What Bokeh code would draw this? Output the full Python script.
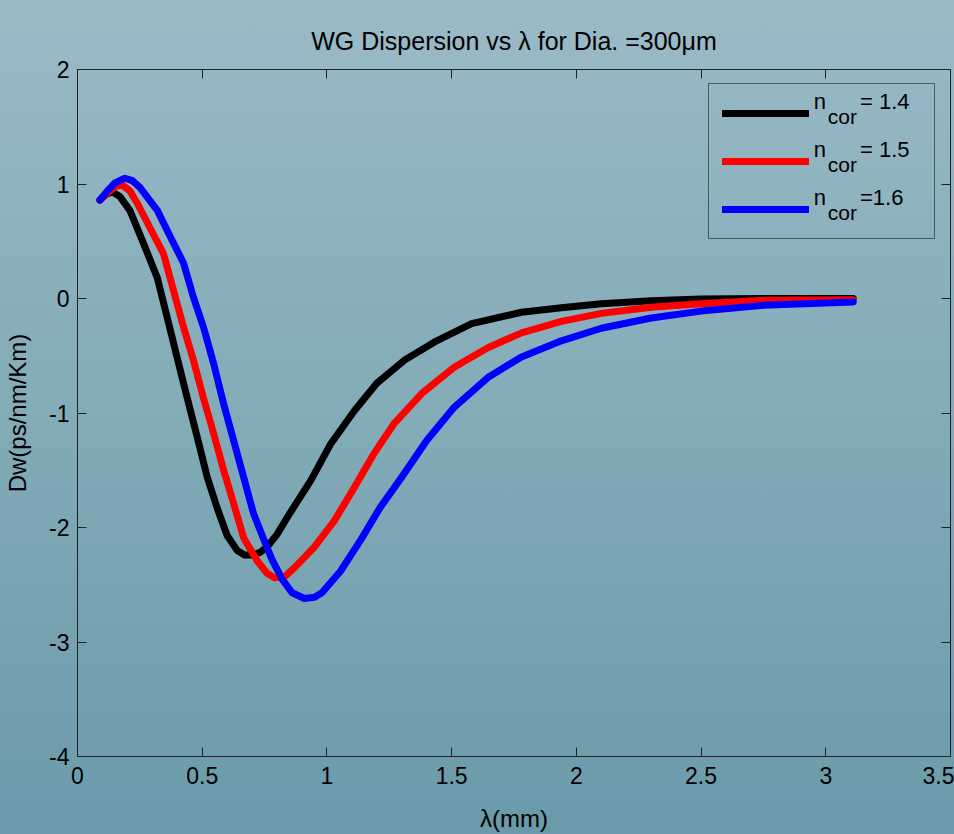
from bokeh.plotting import figure
from bokeh.models import (Range1d, LinearAxis, FixedTicker, CustomJSTickFormatter,
                          Legend, LegendItem, Label)
from bokeh.embed import file_html
from bokeh.resources import INLINE

# ---------------- data ----------------
x_ticks = [0, 0.5, 1, 1.5, 2, 2.5, 3, 3.5]
y_ticks = [-4, -3, -2, -1, 0, 1, 2]

lam_14 = [0.09, 0.115, 0.14, 0.17, 0.21, 0.265, 0.32, 0.36, 0.40, 0.44, 0.48, 0.52, 0.56, 0.60,
          0.64, 0.67, 0.70, 0.73, 0.76, 0.80, 0.85, 0.935, 1.015, 1.11, 1.20, 1.31,
          1.44, 1.58, 1.78, 1.94, 2.10, 2.30, 2.50, 2.75, 3.11]
dw_14 = [0.86, 0.91, 0.93, 0.89, 0.77, 0.48, 0.18, -0.17, -0.52, -0.87, -1.21, -1.56, -1.83, -2.07,
         -2.20, -2.24, -2.24, -2.22, -2.17, -2.06, -1.88, -1.59, -1.27, -0.98, -0.74, -0.54,
         -0.37, -0.22, -0.12, -0.08, -0.045, -0.02, -0.005, 0.0, 0.0]

lam_15 = [0.09, 0.13, 0.155, 0.18, 0.21, 0.24, 0.29, 0.345, 0.385, 0.425, 0.465, 0.505, 0.546, 0.586,
          0.626, 0.666, 0.72, 0.76, 0.79, 0.83, 0.87, 0.95, 1.03, 1.11, 1.19, 1.27,
          1.38, 1.51, 1.645, 1.78, 1.94, 2.10, 2.30, 2.50, 2.75, 3.11]
dw_15 = [0.86, 0.94, 0.98, 0.99, 0.94, 0.83, 0.62, 0.39, 0.07, -0.25, -0.54, -0.87, -1.18, -1.50,
         -1.79, -2.09, -2.29, -2.40, -2.44, -2.43, -2.35, -2.17, -1.94, -1.65, -1.35, -1.09,
         -0.83, -0.60, -0.43, -0.30, -0.20, -0.13, -0.076, -0.045, -0.015, -0.01]

lam_16 = [0.09, 0.12, 0.15, 0.19, 0.22, 0.25, 0.32, 0.373, 0.425, 0.465, 0.505, 0.546, 0.586, 0.626,
          0.666, 0.706, 0.746, 0.78, 0.82, 0.86, 0.91, 0.95, 0.98, 1.055, 1.135, 1.215,
          1.30, 1.40, 1.51, 1.645, 1.78, 1.94, 2.10, 2.30, 2.50, 2.75, 3.11]
dw_16 = [0.86, 0.94, 1.01, 1.05, 1.03, 0.97, 0.77, 0.535, 0.31, 0.01, -0.25, -0.57, -0.92, -1.24,
         -1.56, -1.88, -2.10, -2.28, -2.45, -2.57, -2.62, -2.61, -2.57, -2.38, -2.11, -1.82,
         -1.56, -1.24, -0.95, -0.69, -0.51, -0.37, -0.26, -0.17, -0.11, -0.06, -0.03]

series_x = [lam_14, lam_15, lam_16]
series_y = [dw_14, dw_15, dw_16]
series_colors = ["#000000", "#ff0000", "#0000ff"]
series_values = ["= 1.4", "= 1.5", "=1.6"]

# legend text anchor positions (data units)
leg_n_x = 2.952
leg_sub_x = 3.008
leg_val_x = 3.137
leg_base_y = [1.613, 1.194, 0.775]
leg_sub_y = [1.491, 1.072, 0.653]

FONT = "Liberation Sans"
AX = "#222222"

p = figure(frame_width=873, frame_height=687,
           x_range=Range1d(0, 3.5), y_range=Range1d(-4, 2),
           output_backend="svg", toolbar_location=None,
           min_border_left=77, min_border_right=4,
           min_border_top=69, min_border_bottom=78,
           title="WG Dispersion vs λ for Dia. =300μm")

p.background_fill_color = None
p.border_fill_color = None
p.outline_line_color = AX
p.styles = {"background": "linear-gradient(to bottom, #9abac6 0%, #83abb8 50%, #6a9aaa 100%)"}
p.grid.visible = False

p.title.text_font = FONT
p.title.text_font_size = "25px"
p.title.text_font_style = "normal"
p.title.text_color = "#000000"
p.title.align = "center"
p.title.standoff = 30

for ax in (p.xaxis[0], p.yaxis[0]):
    ax.major_tick_in = 9
    ax.major_tick_out = 0
    ax.minor_tick_in = 0
    ax.minor_tick_out = 0
    ax.minor_tick_line_color = None
    ax.axis_line_color = AX
    ax.major_tick_line_color = AX
    ax.major_label_text_font = FONT
    ax.major_label_text_font_size = "23px"
    ax.major_label_text_color = "#000000"
    ax.axis_label_text_font = FONT
    ax.axis_label_text_font_size = "24px"
    ax.axis_label_text_font_style = "normal"
    ax.axis_label_text_color = "#000000"

p.xaxis.ticker = FixedTicker(ticks=x_ticks)
p.xaxis.formatter = CustomJSTickFormatter(code="return String(tick);")
p.xaxis.major_label_standoff = 10
p.xaxis.axis_label = "λ(mm)"
p.xaxis.axis_label_standoff = 18

p.yaxis.ticker = FixedTicker(ticks=y_ticks)
p.yaxis.formatter = CustomJSTickFormatter(code="return String(tick);")
p.yaxis.major_label_standoff = 8
p.yaxis.axis_label = "Dw(ps/nm/Km)"
p.yaxis.axis_label_standoff = 15

for loc, ticks in (("above", x_ticks), ("right", y_ticks)):
    a = LinearAxis(ticker=FixedTicker(ticks=ticks),
                   formatter=CustomJSTickFormatter(code="return '';"),
                   major_label_text_font_size="0px", major_label_standoff=0,
                   axis_label_standoff=0,
                   major_tick_in=9, major_tick_out=0,
                   minor_tick_in=0, minor_tick_out=0,
                   minor_tick_line_color=None,
                   axis_line_color=AX, major_tick_line_color=AX)
    p.add_layout(a, loc)

items = []
for xs, ys, c in zip(series_x, series_y, series_colors):
    r = p.line(xs, ys, line_color=c, line_width=7, line_cap="round", line_join="round")
    items.append(LegendItem(label=" ", renderers=[r]))

legend = Legend(items=items, location=(631, 517),
                glyph_width=87, glyph_height=32, label_height=32, label_width=107,
                label_standoff=5, spacing=16, padding=13, margin=0,
                border_line_color="#000000", border_line_width=1,
                background_fill_alpha=0, label_text_font_size="21px")
p.add_layout(legend)

for i, val in enumerate(series_values):
    p.add_layout(Label(x=leg_n_x, y=leg_base_y[i], text="n", text_font=FONT,
                       text_font_size="22px", text_color="#000000"))
    p.add_layout(Label(x=leg_sub_x, y=leg_sub_y[i], text="cor", text_font=FONT,
                       text_font_size="21px", text_color="#000000"))
    p.add_layout(Label(x=leg_val_x, y=leg_base_y[i], text=val, text_font=FONT,
                       text_font_size="22px", text_color="#000000"))

open("out.html", "w").write(file_html(p, INLINE))
